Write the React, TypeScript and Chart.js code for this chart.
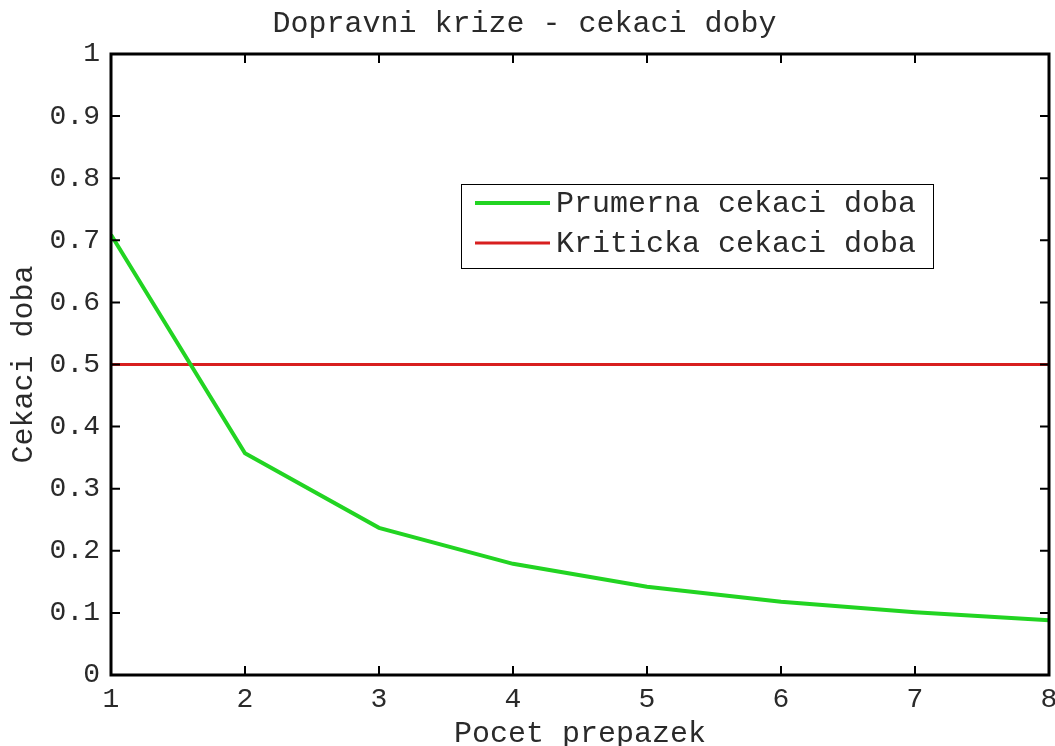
import React, { useEffect, useRef } from "react";
import { Chart, registerables } from "chart.js";

Chart.register(...registerables);

const TITLE = "Dopravni krize - cekaci doby";
const X_TITLE = "Pocet prepazek";
const Y_TITLE = "Cekaci doba";

const counters = [1, 2, 3, 4, 5, 6, 7, 8];
const avgWait = [0.709, 0.357, 0.237, 0.179, 0.142, 0.118, 0.101, 0.088];
const criticalX = [1, 8];
const criticalWait = [0.5, 0.5];
const seriesNames = ["Prumerna cekaci doba", "Kriticka cekaci doba"];

const xTicks = [1, 2, 3, 4, 5, 6, 7, 8];
const yTicks = [0, 0.1, 0.2, 0.3, 0.4, 0.5, 0.6, 0.7, 0.8, 0.9, 1];
const yTickLabels = ["0", "0.1", "0.2", "0.3", "0.4", "0.5", "0.6", "0.7", "0.8", "0.9", "1"];

const FONT = "'Liberation Mono', 'DejaVu Sans Mono', monospace";
const GREEN = "#22d422";
const RED = "#d81f1f";
const TEXT = "#2a2a2a";

const framePlugin = {
  id: "frame",
  afterDraw(chart: any) {
    const { ctx, chartArea } = chart;
    const { left, right, top, bottom } = chartArea;
    const xs = chart.scales.x;
    const ys = chart.scales.y;
    const tl = 9;
    ctx.save();
    ctx.strokeStyle = "#000";
    ctx.lineWidth = 2;
    ctx.beginPath();
    xTicks.forEach((v) => {
      const px = xs.getPixelForValue(v);
      ctx.moveTo(px, bottom);
      ctx.lineTo(px, bottom - tl);
      ctx.moveTo(px, top);
      ctx.lineTo(px, top + tl);
    });
    yTicks.forEach((v) => {
      const py = ys.getPixelForValue(v);
      ctx.moveTo(left, py);
      ctx.lineTo(left + tl, py);
      ctx.moveTo(right, py);
      ctx.lineTo(right - tl, py);
    });
    ctx.stroke();
    ctx.lineWidth = 3;
    ctx.strokeRect(left, top, right - left, bottom - top);
    ctx.restore();
  },
};

const legendPlugin = {
  id: "boxLegend",
  afterDraw(chart: any, _args: any, opts: any) {
    const { ctx } = chart;
    const { x, y, w, h, rowGap, lineLen, font } = opts;
    ctx.save();
    ctx.fillStyle = "#fff";
    ctx.fillRect(x, y, w, h);
    ctx.strokeStyle = "#000";
    ctx.lineWidth = 1;
    ctx.strokeRect(x + 0.5, y + 0.5, w, h);
    ctx.font = font;
    ctx.textBaseline = "middle";
    ctx.textAlign = "left";
    chart.data.datasets.forEach((ds: any, i: number) => {
      const cy = y + 19 + i * rowGap;
      ctx.strokeStyle = ds.borderColor;
      ctx.lineWidth = ds.borderWidth;
      ctx.beginPath();
      ctx.moveTo(x + 14, cy);
      ctx.lineTo(x + 14 + lineLen, cy);
      ctx.stroke();
      ctx.fillStyle = TEXT;
      ctx.fillText(ds.label, x + 14 + lineLen + 6, cy + 1);
    });
    ctx.restore();
  },
};

export default function App() {
  const ref = useRef<HTMLCanvasElement | null>(null);

  useEffect(() => {
    if (!ref.current) return;
    const chart = new Chart(ref.current, {
      type: "line",
      data: {
        datasets: [
          {
            label: seriesNames[0],
            data: counters.map((c, i) => ({ x: c, y: avgWait[i] })),
            borderColor: GREEN,
            borderWidth: 4,
            pointRadius: 0,
            tension: 0,
            fill: false,
          },
          {
            label: seriesNames[1],
            data: criticalX.map((c, i) => ({ x: c, y: criticalWait[i] })),
            borderColor: RED,
            borderWidth: 3,
            pointRadius: 0,
            tension: 0,
            fill: false,
          },
        ],
      },
      plugins: [framePlugin, legendPlugin],
      options: {
        responsive: false,
        animation: false,
        events: [],
        layout: { padding: { left: 0, right: 6, top: 0, bottom: 0 } },
        plugins: {
          legend: { display: false },
          tooltip: { enabled: false },
          title: {
            display: true,
            text: TITLE,
            color: TEXT,
            font: { family: FONT, size: 30, weight: "normal", lineHeight: 1.2 },
            padding: { top: 6, bottom: 12 },
          },
          boxLegend: {
            x: 461,
            y: 184,
            w: 472,
            h: 84,
            rowGap: 40,
            lineLen: 75,
            font: `30px ${FONT}`,
          },
        } as any,
        scales: {
          x: {
            type: "linear",
            min: 1,
            max: 8,
            afterBuildTicks: (s: any) => {
              s.ticks = xTicks.map((v) => ({ value: v }));
            },
            ticks: {
              color: TEXT,
              font: { family: FONT, size: 28 },
              padding: 8,
              maxRotation: 0,
              callback: (v: any) => String(v),
            },
            grid: { display: false, drawTicks: false },
            border: { display: false },
            title: {
              display: true,
              text: X_TITLE,
              color: TEXT,
              font: { family: FONT, size: 30, lineHeight: 1 },
              padding: { top: 0, bottom: -3 },
            },
            afterFit: (s: any) => {
              s.height = 71;
              s.paddingLeft = 0;
              s.paddingRight = 0;
            },
          },
          y: {
            type: "linear",
            min: 0,
            max: 1,
            afterBuildTicks: (s: any) => {
              s.ticks = yTicks.map((v) => ({ value: v }));
            },
            ticks: {
              color: TEXT,
              font: { family: FONT, size: 28 },
              padding: 11,
              callback: (v: any) => {
                const i = yTicks.findIndex((t) => Math.abs(t - v) < 1e-9);
                return i >= 0 ? yTickLabels[i] : "";
              },
            },
            grid: { display: false, drawTicks: false },
            border: { display: false },
            title: {
              display: true,
              text: Y_TITLE,
              color: TEXT,
              font: { family: FONT, size: 30, lineHeight: 1 },
              padding: { top: 9, bottom: 0 },
            },
            afterFit: (s: any) => {
              s.width = 111;
              s.paddingTop = 0;
              s.paddingBottom = 0;
            },
          },
        },
      },
    });
    return () => chart.destroy();
  }, []);

  return (
    <div style={{ position: "absolute", left: 0, top: 0, width: 1055, height: 746, background: "#fff" }}>
      <canvas ref={ref} width={1055} height={746} style={{ display: "block" }} />
    </div>
  );
}
